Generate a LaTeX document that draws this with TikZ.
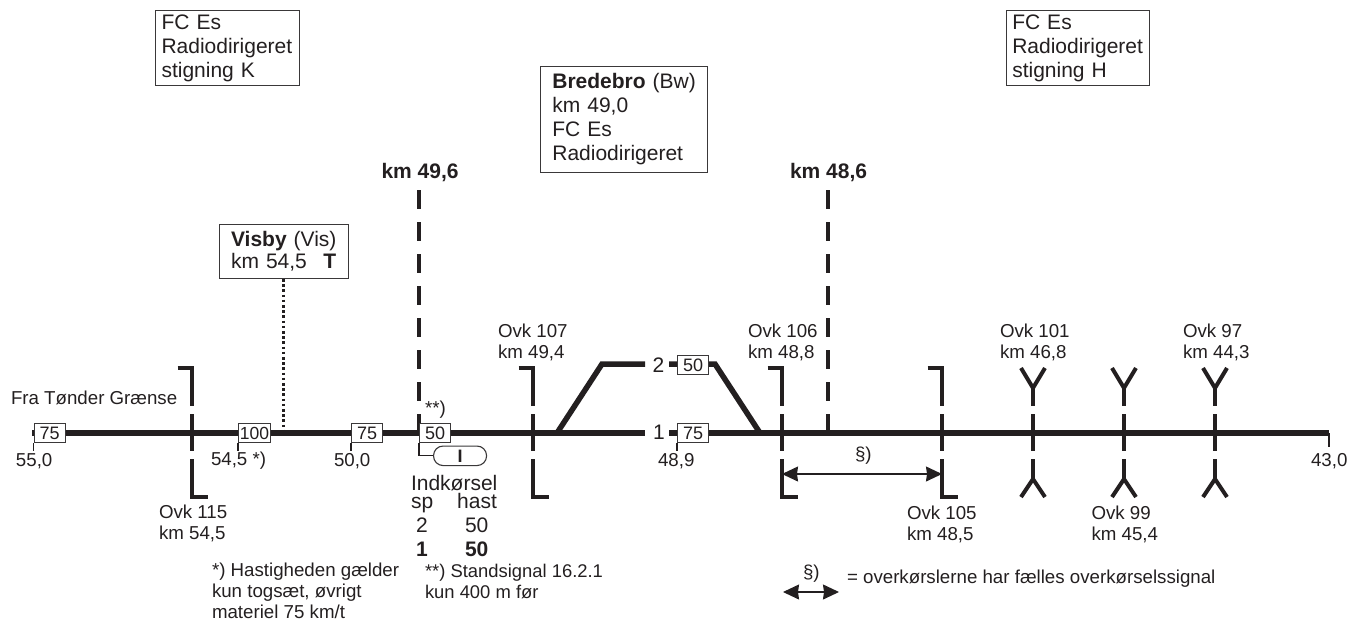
\documentclass[tikz,border=0pt]{standalone}
\usepackage{fontspec}
\setmainfont{Liberation Sans}
\usetikzlibrary{arrows.meta,calc}
\definecolor{ink}{HTML}{231F20}
\definecolor{edge}{HTML}{3A3839}
\newcommand\bigfs{\fontsize{21}{24}\selectfont}
\newcommand\smallfs{\fontsize{18.7}{21}\selectfont}
\tikzset{
  lbl/.style={anchor=base west,inner sep=0pt,outer sep=0pt,text=ink,font=\smallfs,align=left},
  biglbl/.style={lbl,font=\bigfs},
  infobox/.style={draw=edge,line width=1.1pt,fill=white,anchor=north west,inner sep=0pt,text=ink,font=\bigfs,align=left},
  speedbox/.style={draw=edge,line width=1.1pt,fill=white,anchor=north west,inner sep=0pt,minimum width=31pt,minimum height=19pt,text=ink,font=\fontsize{18}{20}\selectfont},
  track/.style={draw=ink,line width=5.5pt},
  crossing/.style={draw=ink,line width=4pt},
  tick/.style={draw=ink,line width=1.1pt},
  kmline/.style={draw=ink,line width=4.2pt,dash pattern=on 19pt off 13pt},
  dimarrow/.style={draw=ink,line width=1.1pt,{Stealth[length=16pt,width=15pt,inset=1pt]}-{Stealth[length=16pt,width=15pt,inset=1pt]}},
}
\newcommand\crossstem[1]{\draw[crossing] (#1,414) -- (#1,451);}
\newcommand\bracketcross[1]{%
  \draw[crossing,line join=miter] (#1-14.5,367.5) -- (#1,367.5) -- (#1,406);
  \crossstem{#1}
  \draw[crossing,line join=miter] (#1,459) -- (#1,497) -- (#1+15.5,497);}
\newcommand\forkcross[1]{%
  \draw[crossing,line join=miter] (#1-12,368) -- (#1,388) -- (#1+12,368);
  \draw[crossing] (#1,388) -- (#1,406);
  \crossstem{#1}
  \draw[crossing] (#1,459) -- (#1,479);
  \draw[crossing,line join=miter] (#1-12,497) -- (#1,479) -- (#1+12,497);}
\begin{document}
\begin{tikzpicture}[x=1pt,y=-1pt]
\useasboundingbox (0,0) rectangle (1347,622);
% km lines
\coordinate (k496top) at (419,190);
\coordinate (k496bot) at (419,433);
\coordinate (k486top) at (828,190);
\coordinate (k486bot) at (828,433);
\draw[kmline] (k496top) -- (k496bot);
\draw[kmline] (k486top) -- (k486bot);
\node[lbl,font=\bigfs\bfseries] (km496) at (381.5,178) {km 49,6};
\node[lbl,font=\bigfs\bfseries] (km486) at (790,178) {km 48,6};
% crossings
\bracketcross{192}
\bracketcross{533}
\bracketcross{782}
\bracketcross{942}
\forkcross{1033}
\forkcross{1124}
\forkcross{1215}
% info boxes
\node[infobox,minimum width=144pt,minimum height=75.5pt,text width=144pt] (fck) at (155,9.7) {\hspace*{6pt}FC Es\\\hspace*{6pt}Radiodirigeret\\\hspace*{6pt}stigning K};
\node[infobox,minimum width=143.5pt,minimum height=75.5pt,text width=143.5pt] (fch) at (1005.7,9.7) {\hspace*{6pt}FC Es\\\hspace*{6pt}Radiodirigeret\\\hspace*{6pt}stigning H};
\node[infobox,minimum width=167pt,minimum height=106pt,text width=167pt] (bre) at (540.3,65.7) {\hspace*{11.5pt}\textbf{Bredebro} (Bw)\\\hspace*{11.5pt}km 49,0\\\hspace*{11.5pt}FC Es\\\hspace*{11.5pt}Radiodirigeret};
\node[infobox,minimum width=129pt,minimum height=53.5pt,text width=129pt,font=\fontsize{21}{22}\selectfont] (vis) at (219,224.3) {\hspace*{11.5pt}\textbf{Visby} (Vis)\\\hspace*{11.5pt}km 54,5\hspace*{16.5pt}\textbf{T}};
\coordinate (visfoot) at (283.5,433);
\draw[draw=ink,line width=2.6pt,dash pattern=on 2.6pt off 2.6pt] (vis.south -| visfoot) -- (visfoot);
% track
\coordinate (t1a) at (32,433);
\coordinate (t1b) at (645,433);
\coordinate (t1c) at (669,433);
\coordinate (t1d) at (1329,433);
\coordinate (swl) at (557,433);
\coordinate (swr) at (760,433);
\coordinate (t2a) at (602,364);
\coordinate (t2b) at (645,364);
\coordinate (t2c) at (669,364);
\coordinate (t2d) at (715,364);
\draw[track] (t1a) -- (t1b);
\draw[track] (t1c) -- (t1d);
\draw[track,line join=miter] (swl) -- (t2a) -- (t2b);
\draw[track,line join=miter] (t2c) -- (t2d) -- (swr);
\node[biglbl] (n2) at (652.5,372) {2};
\node[biglbl] (n1) at (653,439.5) {1};
% speed boards
\node[speedbox] (s75a) at (33.5,423) {75};
\node[speedbox,minimum width=32pt,font=\fontsize{17.5}{20}\selectfont] (s100) at (238,423) {100};
\node[speedbox] (s75b) at (351,423) {75};
\node[speedbox] (s50a) at (419,423) {50};
\node[speedbox] (s50b) at (677,355) {50};
\node[speedbox] (s75c) at (677,423) {75};
\foreach \b in {s75a,s100,s75b,s75c}
  \draw[tick] (\b.south west) -- ++(0,8);
\coordinate (endtick) at (1329,447);
\draw[tick] (t1d) -- (endtick);
% section signal
\node[draw=edge,line width=1.1pt,fill=white,rounded corners=9.5pt,minimum width=53pt,minimum height=19.5pt,inner sep=0pt,anchor=north west,text=ink,font=\fontsize{18}{20}\selectfont\bfseries] (sig) at (433,445.5) {I};
\draw[tick] (s50a.south west) |- (sig.west);
% km labels below track
\node[lbl] (l550) at (16,466) {55,0};
\node[lbl] (l545) at (211,465) {54,5 *)};
\node[lbl] (l500) at (334,466) {50,0};
\node[lbl] (l489) at (658,466) {48,9};
\node[lbl] (l430) at (1311,466) {43,0};
\node[lbl] (fra) at (11,404.5) {Fra Tønder Grænse};
\node[lbl] (stars) at (425,414) {**)};
% crossing names
\node[lbl] (o115) at (159,539) {Ovk 115\\km 54,5};
\node[lbl] (o107) at (498,358) {Ovk 107\\km 49,4};
\node[lbl] (o106) at (748,358) {Ovk 106\\km 48,8};
\node[lbl] (o101) at (1000,358) {Ovk 101\\km 46,8};
\node[lbl] (o97) at (1183,358) {Ovk 97\\km 44,3};
\node[lbl] (o105) at (907,540) {Ovk 105\\km 48,5};
\node[lbl] (o99) at (1091.5,540) {Ovk 99\\km 45,4};
% entry table
\node[lbl,font=\fontsize{21}{21}\selectfont] (ind) at (411,508) {Indkørsel\\[-3pt]sp\hspace*{24pt}hast};
\node[biglbl] (r21) at (416,532.5) {2};
\node[biglbl] (r22) at (465,532.5) {50};
\node[biglbl,font=\bigfs\bfseries] (r11) at (416,556.5) {1};
\node[biglbl,font=\bigfs\bfseries] (r12) at (465,556.5) {50};
% footnotes
\node[lbl] (fn1) at (212,618.5) {*) Hastigheden gælder\\kun togsæt, øvrigt\\materiel 75 km/t};
\node[lbl,font=\fontsize{18.4}{21}\selectfont] (fn2) at (425,598) {**) Standsignal 16.2.1\\kun 400 m før};
% common-signal arrows
\coordinate (arA) at (782,474);
\coordinate (arB) at (942,474);
\draw[dimarrow] (arA) -- (arB);
\node[lbl] (par) at (855,460) {§)};
\coordinate (legA) at (783,592);
\coordinate (legB) at (839,592);
\draw[dimarrow] (legA) -- (legB);
\node[lbl] (par2) at (803,578) {§)};
\node[lbl] (leg) at (847,583) {= overkørslerne har fælles overkørselssignal};
\end{tikzpicture}
\end{document}
